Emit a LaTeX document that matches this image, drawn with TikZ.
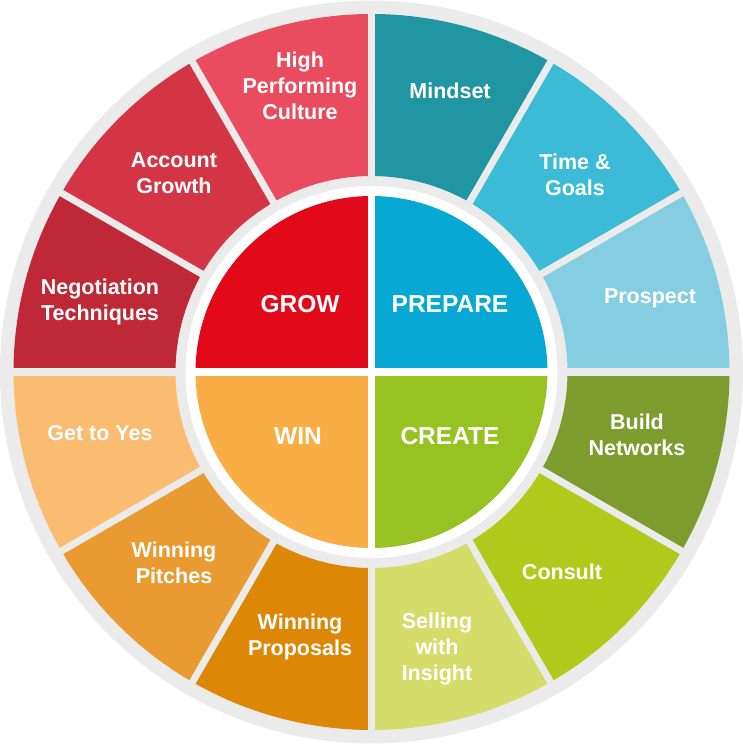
\documentclass[tikz,border=0pt]{standalone}
\usepackage{fontspec}
\setmainfont{Liberation Sans}
\usepackage{xcolor}
\usepackage{tikz}
\usetikzlibrary{positioning}

% colours of the wheel
\definecolor{ringgrey}{HTML}{EBEBEB}
\definecolor{cMindset}{HTML}{2196A3}
\definecolor{cTime}{HTML}{3BBBD5}
\definecolor{cProspect}{HTML}{85CDE1}
\definecolor{cNetworks}{HTML}{7E9C2D}
\definecolor{cConsult}{HTML}{AFCA1B}
\definecolor{cInsight}{HTML}{D4DC6A}
\definecolor{cProposals}{HTML}{DD8707}
\definecolor{cPitches}{HTML}{E99A30}
\definecolor{cYes}{HTML}{F9BC71}
\definecolor{cNegotiation}{HTML}{BE2837}
\definecolor{cAccount}{HTML}{D33545}
\definecolor{cCulture}{HTML}{EA4C5F}
\definecolor{cGrow}{HTML}{E20A1A}
\definecolor{cPrepare}{HTML}{07A8D4}
\definecolor{cCreate}{HTML}{97C221}
\definecolor{cWin}{HTML}{F9AE45}

% annular sector: colour, start angle, end angle, inner radius, outer radius
\newcommand{\wheelsector}[5]{%
  \fill[#1] (#2:#4) arc[start angle=#2, end angle=#3, radius=#4]
    -- (#3:#5) arc[start angle=#3, end angle=#2, radius=#5] -- cycle;}

\begin{document}
\begin{tikzpicture}[
    outerlabel/.style={text=white, align=center, inner sep=0pt,
                font=\bfseries\fontsize{21.5}{26}\selectfont},
    innerlabel/.style={text=white, align=center, inner sep=0pt,
                font=\bfseries\fontsize{24.5}{29}\selectfont},
    gapgrey/.style={draw=ringgrey, line width=7pt},
    gapwhite/.style={draw=white, line width=7pt}
]
\useasboundingbox (-371.5pt,-372pt) rectangle (371.5pt,372pt);

% === BACKGROUND RING ===
\fill[ringgrey] (0,0) circle[radius=371.5pt];

% === OUTER SEGMENTS ===
\wheelsector{cMindset}{60}{90}{196pt}{358pt}
\wheelsector{cTime}{30}{60}{196pt}{358pt}
\wheelsector{cProspect}{0}{30}{196pt}{358pt}
\wheelsector{cNetworks}{-30}{0}{196pt}{358pt}
\wheelsector{cConsult}{-60}{-30}{196pt}{358pt}
\wheelsector{cInsight}{-90}{-60}{196pt}{358pt}
\wheelsector{cProposals}{-120}{-90}{196pt}{358pt}
\wheelsector{cPitches}{-150}{-120}{196pt}{358pt}
\wheelsector{cYes}{-180}{-150}{196pt}{358pt}
\wheelsector{cNegotiation}{150}{180}{196pt}{358pt}
\wheelsector{cAccount}{120}{150}{196pt}{358pt}
\wheelsector{cCulture}{90}{120}{196pt}{358pt}
\foreach \a in {0,30,...,330}
  \draw[gapgrey] (\a:190pt) -- (\a:362pt);

% === INNER QUADRANTS ===
\fill[white] (0,0) circle[radius=186pt];
\wheelsector{cPrepare}{0}{90}{0pt}{176pt}
\wheelsector{cGrow}{90}{180}{0pt}{176pt}
\wheelsector{cWin}{180}{270}{0pt}{176pt}
\wheelsector{cCreate}{270}{360}{0pt}{176pt}
\draw[gapwhite] (-180pt,0pt) -- (180pt,0pt);
\draw[gapwhite] (0pt,-180pt) -- (0pt,180pt);

% === LABELS ===
\node[outerlabel] (mindset) at (78.5pt,281pt) {Mindset};
\node[outerlabel] (time) at (203.5pt,197pt) {Time \&\\Goals};
\node[outerlabel] (prospect) at (278.5pt,73.5pt) {Prospect};
\node[outerlabel] (networks) at (265.5pt,-63pt) {Build\\Networks};
\node[outerlabel] (consult) at (190.5pt,-199.5pt) {Consult};
\node[outerlabel] (insight) at (65.5pt,-277pt) {Selling\\with\\Insight};
\node[outerlabel] (proposals) at (-71.5pt,-264.5pt) {Winning\\Proposals};
\node[outerlabel] (pitches) at (-197.5pt,-190.5pt) {Winning\\Pitches};
\node[outerlabel] (yes) at (-271.5pt,-61pt) {Get to Yes};
\node[outerlabel] (negotiation) at (-271.5pt,70pt) {Negotiation\\Techniques};
\node[outerlabel] (account) at (-197.5pt,199pt) {Account\\Growth};
\node[outerlabel] (culture) at (-71.5pt,286.5pt) {High\\Performing\\Culture};

\node[innerlabel] (grow) at (-71.5pt,68pt) {GROW};
\node[innerlabel] (prepare) at (78.5pt,68pt) {PREPARE};
\node[innerlabel] (create) at (78.5pt,-64pt) {CREATE};
\node[innerlabel] (win) at (-73.5pt,-64pt) {WIN};

\end{tikzpicture}
\end{document}
